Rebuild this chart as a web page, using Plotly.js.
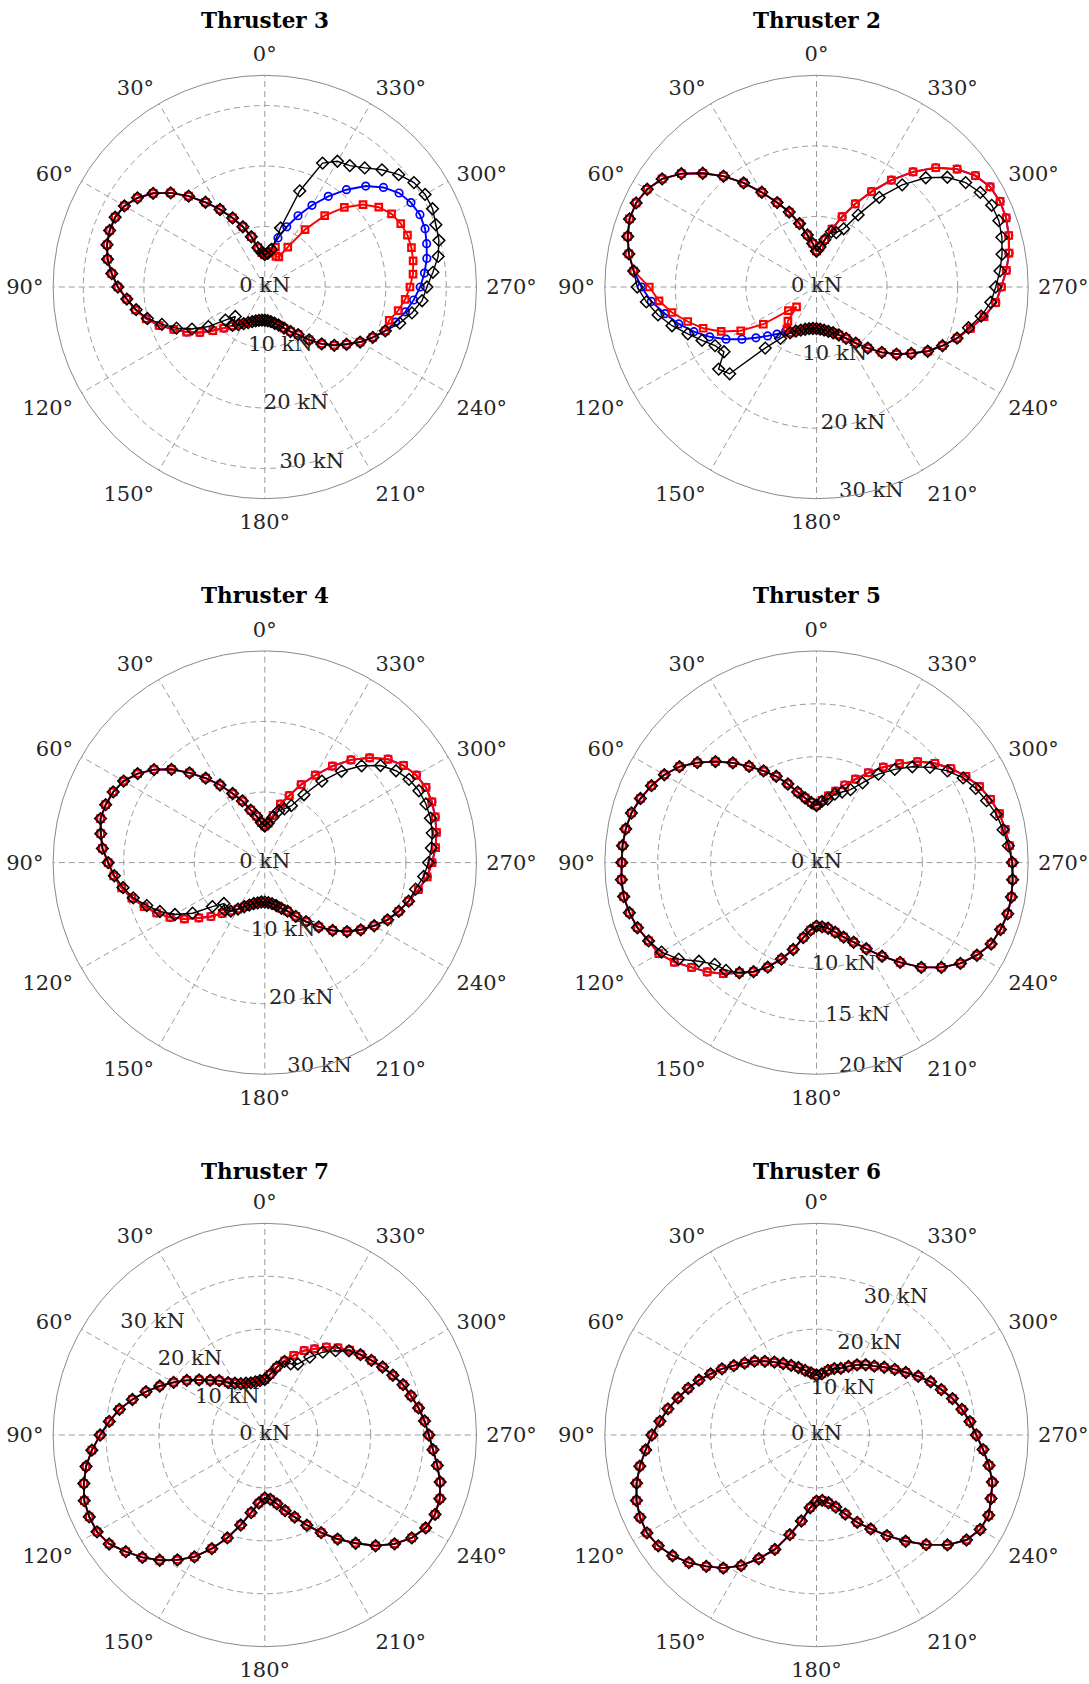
<!DOCTYPE html>
<html>
<head>
<meta charset="utf-8">
<script src="https://cdn.plot.ly/plotly-3.0.1.min.js"></script>
<style>
html,body{margin:0;padding:0;background:#ffffff;}
#chart{width:1089px;height:1684px;}
</style>
</head>
<body>
<div id="chart"></div>
<script>
// ---- angle categories (degrees) ----
const angles = [0,5,10,15,20,25,30,35,40,45,50,55,60,65,70,75,80,85,90,95,100,105,110,115,120,125,130,135,140,145,150,155,160,165,170,175,180,185,190,195,200,205,210,215,220,225,230,235,240,245,250,255,260,265,270,275,280,285,290,295,300,305,310,315,320,325,330,335,340,345,350,355,360];

// ---- Thruster 3 (kN) ----
const t3Red = [5.4,5.7,6.6,8.6,10.6,12.6,14.8,17.1,19.6,22.0,24.1,25.7,26.8,27.3,27.3,27.0,26.4,25.4,24.3,22.9,21.7,20.3,18.6,16.6,14.9,13.1,11.2,9.6,8.4,7.6,7.0,6.5,6.1,5.8,5.6,5.5,5.5,5.6,5.8,6.2,6.7,7.5,8.5,9.6,11.4,13.3,15.0,16.5,18.2,19.7,21.2,21.3,22.4,23.3,24.0,24.6,24.9,25.1,25.1,24.8,24.2,23.0,21.2,18.6,15.4,11.6,7.6,5.5,5.4,6.8,6.0,5.6,5.4];
const t3Blue = [5.4,5.7,6.6,8.6,10.6,12.6,14.8,17.1,19.6,22.0,24.1,25.7,26.8,27.3,27.3,27.0,26.4,25.4,24.3,22.9,21.7,20.3,18.6,16.6,14.9,13.1,11.2,9.6,8.4,7.6,7.0,6.5,6.1,5.8,5.6,5.5,5.5,5.6,5.8,6.2,6.7,7.5,8.5,9.6,11.4,13.3,15.0,16.5,18.2,19.7,21.2,22.4,23.6,24.7,25.7,26.5,27.2,27.7,28.2,28.3,27.9,27.1,25.6,23.6,21.0,18.3,15.6,13.0,10.6,8.4,6.5,5.7,5.4];
const t3Black = [5.4,5.7,6.6,8.6,10.6,12.6,14.8,17.1,19.6,22.0,24.1,25.7,26.8,27.3,27.3,27.0,26.4,25.4,24.3,22.9,21.6,20.1,18.1,16.1,13.9,11.4,8.5,6.9,8.3,7.6,7.0,6.5,6.1,5.8,5.6,5.5,5.5,5.6,5.8,6.2,6.7,7.5,8.5,9.6,11.4,13.3,15.0,16.5,18.2,19.7,21.2,23.1,24.7,26.1,26.8,27.9,29.1,29.8,30.1,30.6,30.6,30.1,28.9,27.4,25.7,24.5,24.0,22.6,16.9,10.1,6.3,5.6,5.4];

// ---- Thruster 2 (kN) ----
const t2Red = [5.1,6.2,7.5,9.3,11.3,13.2,15.5,18.0,20.5,22.8,25.0,26.7,27.7,28.2,28.2,27.7,27.0,26.0,23.7,22.4,20.8,18.9,17.1,14.9,12.4,9.2,5.2,4.0,6.3,7.3,7.5,6.9,6.5,6.2,6.0,5.9,5.9,6.0,6.2,6.5,6.9,7.5,8.4,9.7,11.3,13.1,14.8,16.4,18.2,19.7,21.2,22.6,24.1,25.5,26.2,27.0,27.7,28.2,28.6,28.7,28.4,27.5,26.0,23.9,21.3,18.5,15.6,13.0,10.6,8.5,6.8,5.7,5.1];
const t2Blue = [5.1,6.2,7.5,9.3,11.3,13.2,15.5,18.0,20.5,22.8,25.0,26.7,27.7,28.2,28.2,27.7,27.0,26.0,24.8,23.5,21.8,20.2,18.5,16.7,14.8,12.9,11.2,9.8,8.7,7.6,7.5,6.9,6.5,6.2,6.0,5.9,5.9,6.0,6.2,6.5,6.9,7.5,8.4,9.7,11.3,13.1,14.8,16.4,18.2,19.7,21.2,22.6,24.1,25.5,26.2,27.0,27.7,28.2,28.6,28.7,28.4,27.5,26.0,23.9,21.3,18.5,15.6,13.0,10.6,8.5,6.8,5.7,5.1];
const t2Black = [5.1,6.2,7.5,9.3,11.3,13.2,15.5,18.0,20.5,22.8,25.0,26.7,27.7,28.2,28.2,27.7,27.0,26.0,25.4,24.2,22.8,21.2,19.4,17.9,16.6,16.0,18.1,17.4,11.3,8.9,7.5,6.9,6.5,6.2,6.0,5.9,5.9,6.0,6.2,6.5,6.9,7.5,8.4,9.7,11.3,13.1,14.8,16.4,18.2,19.7,21.2,22.3,23.7,24.8,25.4,26.1,26.7,27.2,27.5,27.4,26.8,25.8,24.2,21.9,18.9,15.5,11.8,9.1,8.2,8.1,6.8,5.7,5.1];

// ---- Thruster 4 (kN) ----
const t4Red = [5.2,5.7,6.7,7.7,9.3,10.8,12.7,14.6,16.6,18.7,20.5,22.0,23.1,23.7,24.0,24.1,23.6,23.1,22.2,21.5,20.6,19.5,18.2,16.9,15.5,13.9,12.2,10.8,9.4,8.4,7.6,6.9,6.4,6.0,5.8,5.6,5.6,5.7,5.9,6.3,6.9,7.6,8.8,10.2,11.9,13.6,15.2,16.6,17.9,19.2,20.2,21.1,22.1,23.1,23.7,24.3,24.7,25.0,25.2,25.2,24.8,24.0,22.8,21.0,19.0,16.7,14.3,12.2,10.1,8.6,6.8,5.6,5.2];
const t4Blue = [5.2,5.7,6.7,7.7,9.3,10.8,12.7,14.6,16.6,18.7,20.5,22.0,23.1,23.7,24.0,24.1,23.6,23.1,22.2,21.5,20.6,19.5,18.2,16.9,15.5,13.9,12.2,10.8,9.4,8.4,7.6,6.9,6.4,6.0,5.8,5.6,5.6,5.7,5.9,6.3,6.9,7.6,8.8,10.2,11.9,13.6,15.2,16.6,17.9,19.2,20.2,21.1,22.1,23.1,23.7,24.3,24.7,25.0,25.2,25.2,24.8,24.0,22.8,21.0,19.0,16.7,14.3,12.2,10.1,8.6,6.8,5.6,5.2];
const t4Black = [5.2,5.7,6.7,7.7,9.3,10.8,12.7,14.6,16.6,18.7,20.5,22.0,23.1,23.7,24.0,24.1,23.6,23.1,22.2,21.4,20.4,19.3,17.8,16.4,14.7,12.5,9.7,8.2,8.8,8.4,7.6,6.9,6.4,6.0,5.8,5.6,5.6,5.7,5.9,6.3,6.9,7.6,8.8,10.2,11.9,13.6,15.2,16.6,17.9,19.2,20.2,21.1,21.7,22.6,23.2,23.7,24.1,24.3,24.3,24.1,23.6,22.7,21.4,19.4,16.9,14.1,11.1,8.9,8.1,7.6,6.5,5.6,5.2];

// ---- Thruster 5 (kN) ----
const t5Red = [5.4,5.7,6.2,6.9,7.9,9.0,10.0,11.1,12.3,13.5,14.7,15.8,16.6,17.2,17.7,18.1,18.3,18.4,18.4,18.5,18.5,18.3,18.0,17.5,17.2,16.4,15.4,14.6,13.7,12.7,11.9,10.9,9.7,8.5,7.2,6.4,6.0,6.1,6.3,6.8,7.5,8.3,9.4,10.8,12.3,14.0,15.4,16.6,17.5,18.2,18.5,18.7,18.7,18.6,18.5,18.3,18.1,17.9,17.5,17.0,16.3,15.5,14.6,13.5,12.2,11.0,9.8,8.7,7.8,7.0,6.4,5.9,5.4];
const t5Blue = [5.4,5.7,6.2,6.9,7.9,9.0,10.0,11.1,12.3,13.5,14.7,15.8,16.6,17.2,17.7,18.1,18.3,18.4,18.4,18.5,18.5,18.3,18.0,17.5,17.2,16.4,15.4,14.6,13.7,12.7,11.9,10.9,9.7,8.5,7.2,6.4,6.0,6.1,6.3,6.8,7.5,8.3,9.4,10.8,12.3,14.0,15.4,16.6,17.5,18.2,18.5,18.7,18.7,18.6,18.5,18.3,18.1,17.9,17.5,17.0,16.3,15.5,14.6,13.5,12.2,11.0,9.8,8.7,7.8,7.0,6.4,5.9,5.4];
const t5Black = [5.4,5.7,6.2,6.9,7.9,9.0,10.0,11.1,12.3,13.5,14.7,15.8,16.6,17.2,17.7,18.1,18.3,18.4,18.4,18.5,18.5,18.3,18.0,17.5,16.9,15.9,14.5,13.6,13.3,12.7,11.9,10.9,9.7,8.5,7.2,6.4,6.0,6.1,6.3,6.8,7.5,8.3,9.4,10.8,12.3,14.0,15.4,16.6,17.5,18.2,18.5,18.7,18.7,18.6,18.5,18.2,17.9,17.6,17.1,16.6,16.0,15.1,14.0,12.8,11.5,10.2,8.7,7.6,7.1,6.7,6.1,5.8,5.4];

// ---- Thruster 7 (kN) ----
const t7Red = [10.5,10.3,10.2,10.2,10.4,10.7,11.3,12.1,13.4,14.6,16.2,18.0,19.9,21.9,23.9,25.9,27.9,29.5,31.1,32.8,34.3,35.4,36.3,36.6,36.6,35.9,34.3,32.7,30.9,28.8,26.6,23.7,20.7,17.6,14.9,12.9,11.9,12.2,13.2,14.8,16.5,18.8,21.3,24.0,26.7,29.6,32.0,33.9,35.1,35.5,35.2,34.3,33.1,31.9,31.0,30.3,29.5,28.6,27.8,26.7,25.7,24.6,23.6,22.7,21.5,20.3,18.8,17.6,16.0,14.5,13.0,11.5,10.5];
const t7Blue = [10.5,10.3,10.2,10.2,10.4,10.7,11.3,12.1,13.4,14.6,16.2,18.0,19.9,21.9,23.9,25.9,27.9,29.5,31.1,32.8,34.3,35.4,36.3,36.6,36.6,35.9,34.3,32.7,30.9,28.8,26.6,23.7,20.7,17.6,14.9,12.9,11.9,12.2,13.2,14.8,16.5,18.8,21.3,24.0,26.7,29.6,32.0,33.9,35.1,35.5,35.2,34.3,33.1,31.9,31.0,30.3,29.5,28.6,27.8,26.7,25.7,24.6,23.6,22.7,21.5,20.3,18.8,17.6,16.0,14.5,13.0,11.5,10.5];
const t7Black = [10.5,10.3,10.2,10.2,10.4,10.7,11.3,12.1,13.4,14.6,16.2,18.0,19.9,21.9,23.9,25.9,27.9,29.5,31.1,32.8,34.3,35.4,36.3,36.6,36.6,35.9,34.3,32.7,30.9,28.8,26.6,23.7,20.7,17.6,14.9,12.9,11.9,12.2,13.2,14.8,16.5,18.8,21.3,24.0,26.7,29.6,32.0,33.9,35.1,35.5,35.2,34.3,33.1,31.9,31.0,30.3,29.5,28.6,27.8,26.7,25.7,24.6,23.6,22.5,20.8,19.1,17.0,14.8,14.3,14.4,13.0,11.5,10.5];

// ---- Thruster 6 (kN) ----
const t6Red = [11.3,11.8,12.4,13.2,14.0,14.9,15.9,17.0,18.2,19.2,20.4,21.8,23.1,24.5,25.8,27.1,28.5,29.7,31.1,32.4,33.9,35.2,36.2,36.8,37.0,36.5,35.5,34.1,32.4,30.7,28.5,25.8,23.0,19.5,16.5,13.8,12.5,12.4,13.0,14.1,15.9,18.2,20.5,23.2,26.2,29.3,32.3,34.6,35.7,35.9,35.1,34.4,33.1,31.6,30.2,29.1,27.9,26.6,25.1,23.8,22.2,20.6,19.3,18.1,17.0,16.2,15.3,14.3,13.4,13.0,12.4,11.6,11.3];
const t6Blue = [11.3,11.8,12.4,13.2,14.0,14.9,15.9,17.0,18.2,19.2,20.4,21.8,23.1,24.5,25.8,27.1,28.5,29.7,31.1,32.4,33.9,35.2,36.2,36.8,37.0,36.5,35.5,34.1,32.4,30.7,28.5,25.8,23.0,19.5,16.5,13.8,12.5,12.4,13.0,14.1,15.9,18.2,20.5,23.2,26.2,29.3,32.3,34.6,35.7,35.9,35.1,34.4,33.1,31.6,30.2,29.1,27.9,26.6,25.1,23.8,22.2,20.6,19.3,18.1,17.0,16.2,15.3,14.3,13.4,13.0,12.4,11.6,11.3];
const t6Black = [11.3,11.8,12.4,13.2,14.0,14.9,15.9,17.0,18.2,19.2,20.4,21.8,23.1,24.5,25.8,27.1,28.5,29.7,31.1,32.4,33.9,35.2,36.2,36.8,37.0,36.5,35.5,34.1,32.4,30.7,28.5,25.8,23.0,19.5,16.5,13.8,12.5,12.4,13.0,14.1,15.9,18.2,20.5,23.2,26.2,29.3,32.3,34.6,35.7,35.9,35.1,34.4,33.1,31.6,30.2,29.1,27.9,26.6,25.1,23.8,22.2,20.6,19.3,18.1,17.0,16.2,15.3,14.3,13.4,13.0,12.4,11.6,11.3];

// ---- titles, radial ranges and radial tick labels ----
const titles = ['Thruster 3','Thruster 2','Thruster 4','Thruster 5','Thruster 7','Thruster 6'];
const radialMax = [35,30,30,20,40,40];
const t3Ticks = [0,10,20,30];
const t2Ticks = [0,10,20,30];
const t4Ticks = [0,10,20,30];
const t5Ticks = [0,10,15,20];
const t7Ticks = [0,10,20,30];
const t6Ticks = [0,10,20,30];
const tickLabelAngle = [195,195,195,195,45,330];

// ---- assemble ----
const panels = [
  {red:t3Red, blue:t3Blue, black:t3Black, ticks:t3Ticks},
  {red:t2Red, blue:t2Blue, black:t2Black, ticks:t2Ticks},
  {red:t4Red, blue:t4Blue, black:t4Black, ticks:t4Ticks},
  {red:t5Red, blue:t5Blue, black:t5Black, ticks:t5Ticks},
  {red:t7Red, blue:t7Blue, black:t7Black, ticks:t7Ticks},
  {red:t6Red, blue:t6Blue, black:t6Black, ticks:t6Ticks}
];

const W = 1089, H = 1684, R = 211.7;
const colCenters = [264.8, 816.5];
const rowCenters = [287, 862.6, 1435];
const titleRowY = [20, 595, 1171.5];

const FONT = 'DejaVu Serif';
const TXT = '#262626';
const GRID = '#9c9c9c';

const traces = [];
const layout = {
  width: W, height: H,
  margin: {l:0, r:0, t:0, b:0},
  paper_bgcolor: '#ffffff',
  showlegend: false,
  annotations: []
};

panels.forEach((p, i) => {
  const key = i === 0 ? 'polar' : 'polar' + (i + 1);
  const col = i % 2, row = Math.floor(i / 2);
  const cx = colCenters[col], cy = rowCenters[row];
  layout[key] = {
    domain: {
      x: [(cx - R) / W, (cx + R) / W],
      y: [(H - cy - R) / H, (H - cy + R) / H]
    },
    bgcolor: '#ffffff',
    angularaxis: {
      rotation: 90,
      direction: 'counterclockwise',
      tickmode: 'linear', tick0: 0, dtick: 30,
      showline: true, linecolor: '#8a8a8a', linewidth: 1,
      showgrid: true, gridcolor: GRID, gridwidth: 1, griddash: '6px,4px',
      ticks: 'outside', ticklen: 5, tickcolor: 'rgba(0,0,0,0)',
      tickfont: {family: FONT, size: 21, color: TXT}
    },
    radialaxis: {
      range: [0, radialMax[i]],
      tickmode: 'array',
      tickvals: p.ticks.filter(v => v > 0 && v < radialMax[i]),
      showticklabels: false, ticks: '', showline: false,
      showgrid: true, gridcolor: GRID, gridwidth: 1, griddash: '6px,4px'
    }
  };
  const sub = key;
  traces.push({
    type: 'scatterpolar', subplot: sub, r: p.blue, theta: angles, mode: 'lines+markers',
    line: {color: '#0000ff', width: 1.9},
    marker: {symbol: 'circle-open', size: 7.5, color: '#0000ff', line: {width: 1.7}},
    hoverinfo: 'skip'
  });
  traces.push({
    type: 'scatterpolar', subplot: sub, r: p.red, theta: angles, mode: 'lines+markers',
    line: {color: '#ff0000', width: 1.9},
    marker: {symbol: 'square-open', size: 6.5, color: '#ff0000', line: {width: 2.2}},
    hoverinfo: 'skip'
  });
  traces.push({
    type: 'scatterpolar', subplot: sub, r: p.black, theta: angles, mode: 'lines+markers',
    line: {color: '#000000', width: 1.4},
    marker: {symbol: 'diamond-open', size: 9, color: '#000000', line: {width: 1.5}},
    hoverinfo: 'skip'
  });
  traces.push({
    type: 'scatterpolar', subplot: sub, r: p.ticks,
    theta: p.ticks.map(() => tickLabelAngle[i]),
    mode: 'text', text: p.ticks.map(v => v + ' kN'),
    textposition: 'middle center',
    textfont: {family: FONT, size: 21, color: TXT},
    cliponaxis: false, hoverinfo: 'skip'
  });
  layout.annotations.push({
    xref: 'paper', yref: 'paper',
    x: cx / W, y: 1 - titleRowY[row] / H,
    xanchor: 'center', yanchor: 'middle',
    text: titles[i], showarrow: false,
    font: {family: FONT, size: 21.5, color: '#000000', weight: 'bold'}
  });
});

Plotly.newPlot('chart', traces, layout, {displayModeBar: false, staticPlot: true});
</script>
</body>
</html>
